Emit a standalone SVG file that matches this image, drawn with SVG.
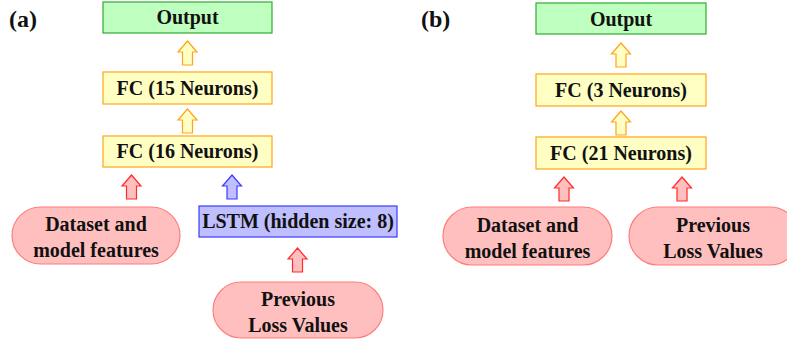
<svg xmlns="http://www.w3.org/2000/svg" xmlns:xlink="http://www.w3.org/1999/xlink" width="787" height="342" viewBox="0 0 787 342">
  <style>
    text { font-family: "Liberation Serif", "DejaVu Serif", serif; font-weight: bold; font-size: 20px; fill: #111; text-anchor: middle; }
    .panel { font-size: 24px; text-anchor: start; }
    .out { fill: #bfffbf; stroke: #33a833; stroke-width: 1.2; }
    .fc { fill: #ffffc4; stroke: #ffa31a; stroke-width: 1.2; }
    .lstm { fill: #bfbfff; stroke: #3b3bff; stroke-width: 1.2; }
    .pill { fill: #ffbfbf; stroke: #ff7d7d; stroke-width: 1.2; }
    .ar-o { fill: #ffffc4; stroke: #ffa31a; stroke-width: 1.2; }
    .ar-r { fill: #ffbfbf; stroke: #ff2a2a; stroke-width: 1.2; }
    .ar-b { fill: #bfbfff; stroke: #3b3bff; stroke-width: 1.2; }
  </style>
  <defs>
    <!-- hollow up-pointing block arrow, tip at origin -->
    <path id="up" d="M0,0 L9.5,11 L5,11 L5,24 L-5,24 L-5,11 L-9.5,11 Z"/>
  </defs>
  <rect width="787" height="342" fill="#ffffff"/>

  <!-- panel (a) -->
  <text class="panel" x="9" y="27">(a)</text>
  <g id="a-output"><rect class="out" x="103" y="2" width="169" height="31"/><text x="187.5" y="24">Output</text></g>
  <g id="a-fc15"><rect class="fc" x="103" y="72" width="169" height="32"/><text x="187.5" y="95">FC (15 Neurons)</text></g>
  <g id="a-fc16"><rect class="fc" x="103" y="136" width="169" height="31"/><text x="187.5" y="158">FC (16 Neurons)</text></g>
  <g id="a-lstm"><rect class="lstm" x="199" y="206" width="198" height="31"/><text x="298" y="228">LSTM (hidden size: 8)</text></g>
  <g id="a-dataset"><rect class="pill" x="12" y="207" width="168" height="57" rx="28.5"/><text x="96" y="231">Dataset and</text><text x="96" y="257">model features</text></g>
  <g id="a-loss"><rect class="pill" x="213" y="282" width="170" height="56" rx="28"/><text x="298" y="306">Previous</text><text x="298" y="332">Loss Values</text></g>

  <!-- panel (b) -->
  <text class="panel" x="421" y="27">(b)</text>
  <g id="b-output"><rect class="out" x="536" y="3" width="170" height="31"/><text x="621" y="26">Output</text></g>
  <g id="b-fc3"><rect class="fc" x="536" y="74" width="170" height="32"/><text x="621" y="97">FC (3 Neurons)</text></g>
  <g id="b-fc21"><rect class="fc" x="536" y="137" width="170" height="32"/><text x="621" y="160">FC (21 Neurons)</text></g>
  <g id="b-dataset"><rect class="pill" x="443" y="207" width="169" height="58" rx="29"/><text x="527.5" y="232">Dataset and</text><text x="527.5" y="258">model features</text></g>
  <g id="b-loss"><rect class="pill" x="629" y="207" width="170" height="58" rx="29"/><text x="713" y="232">Previous</text><text x="713" y="258">Loss Values</text></g>

  <!-- connectors -->
  <g id="connectors">
    <use xlink:href="#up" class="ar-o" x="187.5" y="41"/>
    <use xlink:href="#up" class="ar-o" x="187.5" y="109"/>
    <use xlink:href="#up" class="ar-r" x="131.5" y="175"/>
    <use xlink:href="#up" class="ar-b" x="232" y="175"/>
    <use xlink:href="#up" class="ar-r" x="297.5" y="248"/>
    <use xlink:href="#up" class="ar-o" x="621" y="43"/>
    <use xlink:href="#up" class="ar-o" x="621" y="111"/>
    <use xlink:href="#up" class="ar-r" x="564" y="177"/>
    <use xlink:href="#up" class="ar-r" x="682" y="177"/>
  </g>
</svg>
